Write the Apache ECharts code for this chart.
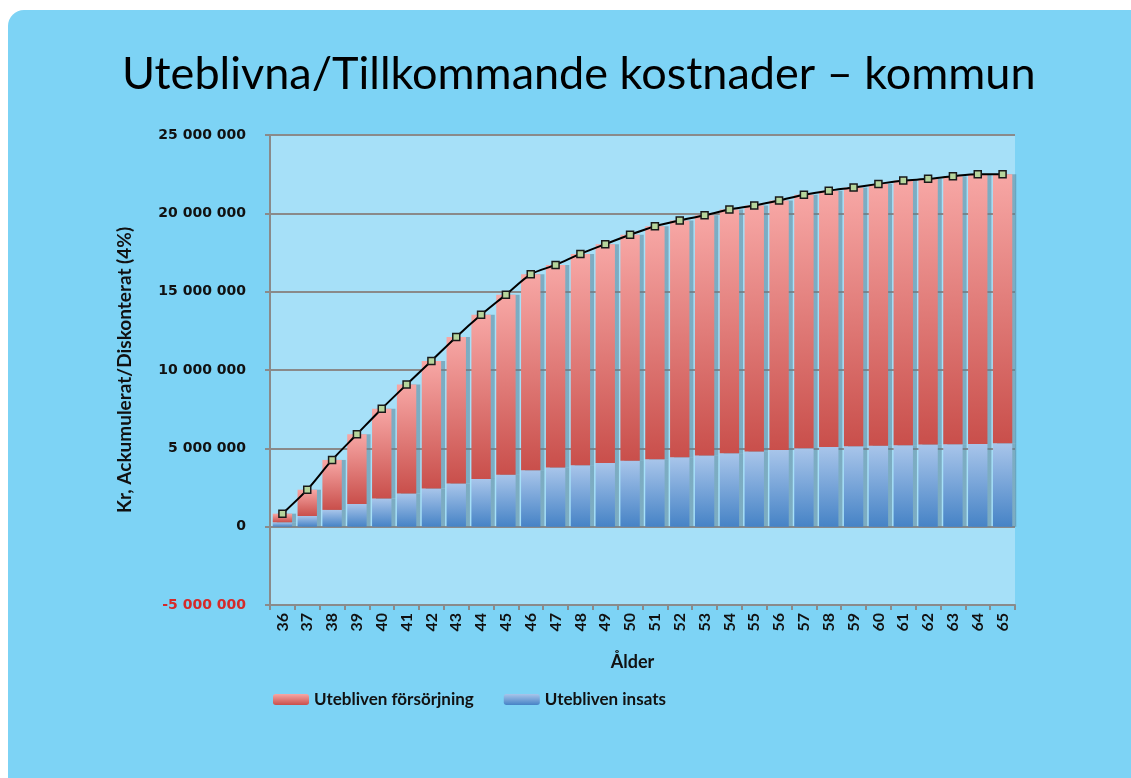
<!DOCTYPE html>
<html>
<head>
<meta charset="utf-8">
<script src="https://cdn.jsdelivr.net/npm/echarts@6/dist/echarts.min.js"></script>
<style>
  html, body { margin: 0; padding: 0; background: #ffffff; }
  #card {
    position: absolute; left: 8px; top: 10px; width: 1140px; height: 790px;
    background: #7dd3f5; border-radius: 16px;
  }
  #main { position: absolute; left: 0; top: 0; width: 1131px; height: 778px; }
</style>
</head>
<body>
<div id="card"></div>
<div id="main"></div>
<script>
  // Ålder (x-axis categories)
  var alder = ['36','37','38','39','40','41','42','43','44','45','46','47','48','49','50',
               '51','52','53','54','55','56','57','58','59','60','61','62','63','64','65'];
  // Utebliven insats (blue, bottom of stack)
  var insats = [280000, 680000, 1070000, 1450000, 1790000, 2110000, 2430000, 2750000, 3050000, 3320000,
                3600000, 3770000, 3920000, 4070000, 4200000, 4300000, 4430000, 4550000, 4680000, 4790000,
                4900000, 5000000, 5090000, 5130000, 5170000, 5190000, 5240000, 5260000, 5280000, 5320000];
  // Utebliven försörjning (red, top of stack)
  var forsorjning = [550000, 1680000, 3190000, 4450000, 5740000, 6960000, 8150000, 9360000, 10470000, 11490000,
                     12510000, 12940000, 13490000, 13960000, 14430000, 14880000, 15120000, 15330000, 15560000, 15710000,
                     15920000, 16180000, 16350000, 16520000, 16710000, 16900000, 16960000, 17110000, 17220000, 17180000];
  // Totalt (line with markers)
  var totalt = [830000, 2360000, 4260000, 5900000, 7530000, 9070000, 10580000, 12110000, 13520000, 14810000,
                16110000, 16710000, 17410000, 18030000, 18630000, 19180000, 19550000, 19880000, 20240000, 20500000,
                20820000, 21180000, 21440000, 21650000, 21880000, 22090000, 22200000, 22370000, 22500000, 22500000];
  // y-axis ticks
  var yMin = -5000000, yMax = 25000000, yStep = 5000000;

  var font = 'Lato, "Open Sans", sans-serif';
  var numFont = '"DejaVu Sans", sans-serif';

  function fmt(v) {
    var s = String(Math.abs(v)).replace(/\B(?=(\d{3})+(?!\d))/g, ' ');
    return (v < 0 ? '-' : '') + s;
  }

  var myChart = echarts.init(document.getElementById('main'), null, { renderer: 'canvas' });
  var option = {
    backgroundColor: 'transparent',
    animation: false,
    title: {
      text: 'Uteblivna/Tillkommande kostnader – kommun',
      left: 117,
      top: 47,
      textStyle: { fontFamily: font, fontWeight: 'normal', fontSize: 45, color: '#000' }
    },
    legend: {
      data: ['Utebliven försörjning', 'Utebliven insats'],
      left: 268,
      top: 686,
      itemWidth: 36,
      itemHeight: 11,
      itemGap: 30,
      textStyle: { fontFamily: font, fontWeight: 'bold', fontSize: 17, color: '#111' }
    },
    grid: {
      left: 270,
      right: 116,
      top: 135,
      bottom: 173,
      show: true,
      backgroundColor: '#a6e0f8',
      borderWidth: 0
    },
    xAxis: {
      type: 'category',
      data: alder,
      name: 'Ålder',
      nameLocation: 'middle',
      nameGap: 48,
      nameTextStyle: { fontFamily: font, fontWeight: 'bold', fontSize: 18, color: '#111', padding: [0, 20, 0, 0] },
      axisLine: { onZero: false, lineStyle: { color: '#8a8a8a', width: 2 } },
      axisTick: { show: true, length: 5, lineStyle: { color: '#8a8a8a', width: 2 } },
      axisLabel: {
        rotate: 90, interval: 0, margin: 8,
        fontFamily: font, fontWeight: 'bold', fontSize: 16, color: '#111'
      }
    },
    yAxis: {
      type: 'value',
      min: yMin,
      max: yMax,
      interval: yStep,
      name: 'Kr, Ackumulerat/Diskonterat (4%)',
      nameLocation: 'middle',
      nameRotate: 90,
      nameGap: 136,
      nameTextStyle: { fontFamily: font, fontWeight: 'bold', fontSize: 19, color: '#111' },
      axisLine: { show: true, lineStyle: { color: '#8a8a8a', width: 2 } },
      axisTick: { show: true, length: 5, lineStyle: { color: '#8a8a8a', width: 2 } },
      axisLabel: {
        margin: 24,
        fontFamily: numFont, fontWeight: 'bold', fontSize: 14,
        formatter: function (v) { return fmt(v); },
        color: function (v) { return Number(v) < 0 ? '#d42a2a' : '#111'; }
      },
      splitLine: { show: true, lineStyle: { color: '#8a8a8a', width: 2 } }
    },
    series: [
      {
        name: 'Utebliven insats',
        type: 'bar',
        stack: 'kostnad',
        data: insats,
        barCategoryGap: '22%',
        itemStyle: {
          color: new echarts.graphic.LinearGradient(0, 0, 0, 1, [
            { offset: 0, color: '#a8c5ea' },
            { offset: 1, color: '#4683c6' }
          ]),
          shadowColor: 'rgba(90,130,150,0.55)',
          shadowOffsetX: 4
        }
      },
      {
        name: 'Utebliven försörjning',
        type: 'bar',
        stack: 'kostnad',
        data: forsorjning,
        itemStyle: {
          color: new echarts.graphic.LinearGradient(0, 0, 0, 1, [
            { offset: 0, color: '#f7a7a5' },
            { offset: 1, color: '#c94f4b' }
          ]),
          shadowColor: 'rgba(90,130,150,0.55)',
          shadowOffsetX: 4
        }
      },
      {
        name: 'Totalt',
        type: 'line',
        data: totalt,
        smooth: 0.3,
        symbol: 'rect',
        symbolSize: 7,
        lineStyle: { color: '#000', width: 2 },
        itemStyle: { color: '#b6d59c', borderColor: '#1a1a1a', borderWidth: 1.5 },
        z: 5
      }
    ]
  };
  myChart.setOption(option);
</script>
</body>
</html>
